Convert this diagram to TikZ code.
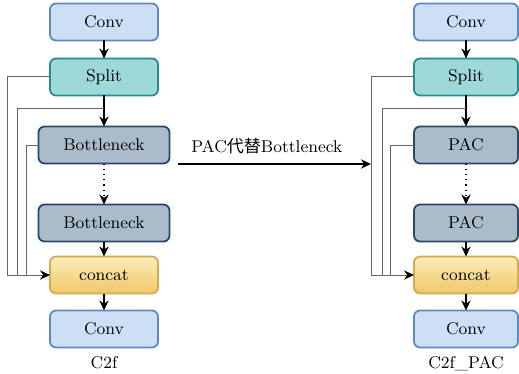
\documentclass[tikz,border=0pt]{standalone}
\usepackage{fontspec}
\newfontfamily\cjk{Noto Sans CJK SC}
\usepackage{xcolor}
\usepackage{tikz}
\usetikzlibrary{positioning, arrows.meta}
\definecolor{convfill}{RGB}{205,223,245}
\definecolor{convdraw}{RGB}{95,135,195}
\definecolor{splitfill}{RGB}{158,216,216}
\definecolor{splitdraw}{RGB}{40,140,140}
\definecolor{bnfill}{RGB}{170,188,202}
\definecolor{bndraw}{RGB}{45,72,100}
\definecolor{cattop}{RGB}{251,236,185}
\definecolor{catbot}{RGB}{240,200,105}
\definecolor{catdraw}{RGB}{215,170,75}

\begin{document}
\begin{tikzpicture}[
  x=0.5pt, y=-0.5pt, font=\fontsize{8.5}{10}\selectfont,
  >={Stealth[length=5pt,width=4.6pt,black]},
  blk/.style={rectangle, rounded corners=3pt, line width=0.9pt,
    minimum height=18.5pt, inner sep=0pt, outer sep=0pt},
  convbox/.style={blk, draw=convdraw, fill=convfill, minimum width=54pt},
  splitbox/.style={blk, draw=splitdraw, fill=splitfill, minimum width=54pt},
  bnbox/.style={blk, draw=bndraw, fill=bnfill, minimum width=65.5pt},
  catbox/.style={blk, draw=catdraw, top color=cattop, bottom color=catbot,
    minimum width=54pt},
  flow/.style={->, black, line width=0.6pt},
  skip/.style={draw=black!60, line width=0.5pt}
]
\useasboundingbox (0,0) rectangle (519,374);

% C2f
\node[convbox] (convL1) at (104,22) {Conv};
\node[splitbox, below=9pt of convL1] (splitL) {Split};
\node[bnbox, below=15.5pt of splitL] (bnL1) {Bottleneck};
\node[bnbox, below=20.5pt of bnL1] (bnL2) {Bottleneck};
\node[catbox, below=7.5pt of bnL2] (catL) {concat};
\node[convbox, below=8.5pt of catL] (convL2) {Conv};
\node[below=1pt of convL2] (nameL) {C2f};

\draw[flow] (convL1) -- (splitL);
\draw[flow] (splitL) -- (bnL1);
\draw[flow, dotted, line width=0.8pt] (bnL1) -- (bnL2);
\draw[flow] (bnL2) -- (catL);
\draw[flow] (catL) -- (convL2);

\coordinate (tapL) at ([yshift=-6.5pt]splitL.south);
\coordinate (sL1) at (7,0);
\coordinate (sL2) at (17,0);
\coordinate (sL3) at (26,0);
\draw[skip] (splitL.west) -| (sL1 |- catL.west);
\draw[skip] (tapL) -| (sL2 |- catL.west);
\draw[skip] (bnL1.west) -| (sL3 |- catL.west);
\draw[skip, ->] (sL1 |- catL.west) -- (catL.west);

% C2f_PAC
\node[convbox, minimum width=52pt] (convR1) at (466,22) {Conv};
\node[splitbox, minimum width=52pt, below=9pt of convR1] (splitR) {Split};
\node[bnbox, minimum width=52pt, below=15.5pt of splitR] (pacR1) {PAC};
\node[bnbox, minimum width=52pt, below=20.5pt of pacR1] (pacR2) {PAC};
\node[catbox, minimum width=52pt, below=7.5pt of pacR2] (catR) {concat};
\node[convbox, minimum width=52pt, below=8.5pt of catR] (convR2) {Conv};
\node[below=1pt of convR2] (nameR) {C2f\_PAC};

\draw[flow] (convR1) -- (splitR);
\draw[flow] (splitR) -- (pacR1);
\draw[flow, dotted, line width=0.8pt] (pacR1) -- (pacR2);
\draw[flow] (pacR2) -- (catR);
\draw[flow] (catR) -- (convR2);

\coordinate (tapR) at ([yshift=-6.5pt]splitR.south);
\coordinate (sR1) at (371,0);
\coordinate (sR2) at (382,0);
\coordinate (sR3) at (390,0);
\draw[skip] (splitR.west) -| (sR1 |- catR.west);
\draw[skip] (tapR) -| (sR2 |- catR.west);
\draw[skip] (pacR1.west) -| (sR3 |- catR.west);
\draw[skip, ->] (sR1 |- catR.west) -- (catR.west);

% replacement arrow
\coordinate (repl) at (178,164);
\draw[flow] (repl) -- (repl -| sR1)
  node[pos=0.46, above=1.5pt] (replText) {PAC{\cjk 代替}Bottleneck};
\end{tikzpicture}
\end{document}
